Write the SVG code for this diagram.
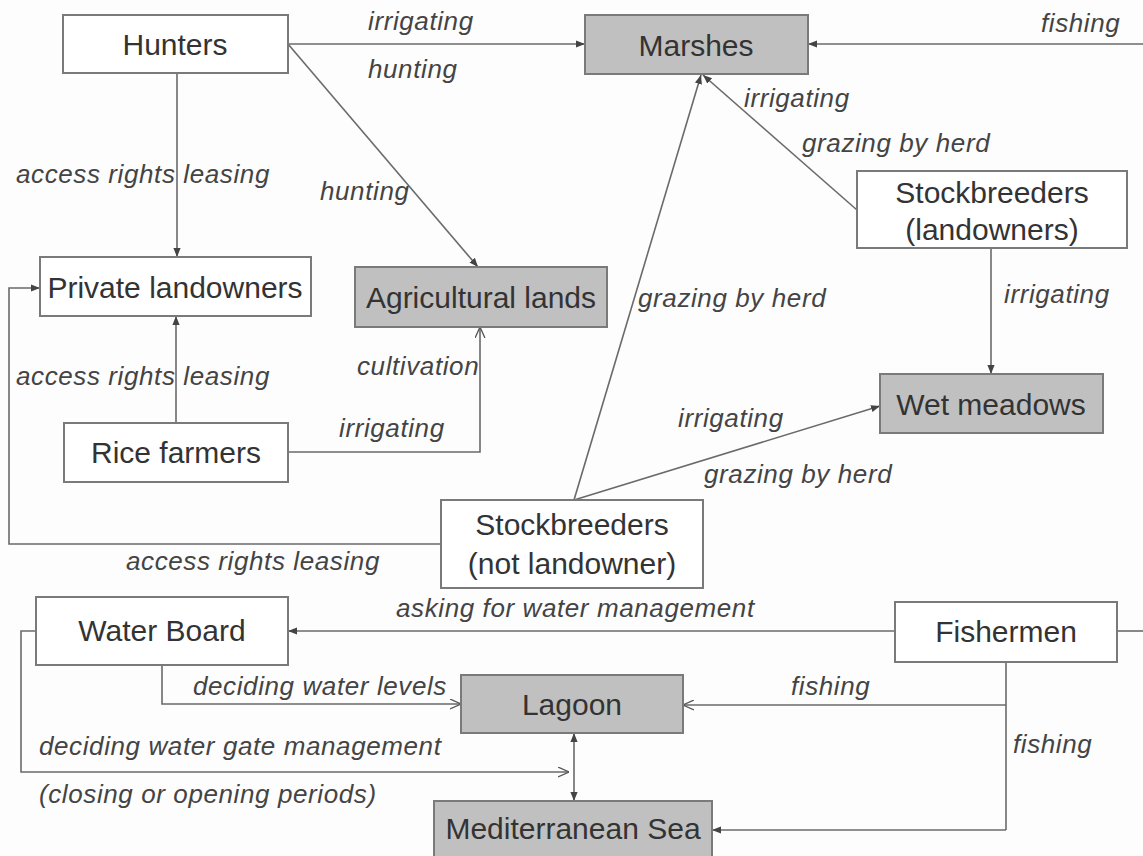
<svg xmlns="http://www.w3.org/2000/svg" width="1143" height="856" viewBox="0 0 1143 856">
<defs>
<style>
.node rect{stroke:#7a7a7a;stroke-width:2;fill:#ffffff}
.node.res rect{fill:#c0c0c0}
.node text{font-family:"Liberation Sans",Arial,sans-serif;font-size:30px;fill:#333;text-anchor:middle}
.lbl{font-family:"Liberation Sans",Arial,sans-serif;font-size:26px;letter-spacing:0.6px;font-style:italic;fill:#444}
#connectors path{stroke:#6a6a6a;stroke-width:1.6;fill:none}
.f{marker-end:url(#af)}
.o{marker-end:url(#ao)}
</style>
<marker id="af" viewBox="0 0 10 10" refX="10" refY="5" markerWidth="9" markerHeight="9" markerUnits="userSpaceOnUse" orient="auto"><path d="M0,1 L10,5 L0,9 z" fill="#444"/></marker>
<marker id="as" viewBox="0 0 10 10" refX="10" refY="5" markerWidth="9" markerHeight="9" markerUnits="userSpaceOnUse" orient="auto-start-reverse"><path d="M0,1 L10,5 L0,9 z" fill="#444"/></marker>
<marker id="ao" viewBox="0 0 10 10" refX="10" refY="5" markerWidth="11" markerHeight="11" markerUnits="userSpaceOnUse" orient="auto"><path d="M0,0.5 L10,5 L0,9.5" fill="none" stroke="#555" stroke-width="1.2"/></marker>
</defs>
<rect x="0" y="0" width="1143" height="856" fill="#fdfdfd"/>
<g id="connectors">
<path class="f" d="M288,44 H585"/>
<path class="f" d="M288,44 L478,267"/>
<path class="f" d="M177,73 V257"/>
<path class="f" d="M1143,44 H808"/>
<path class="f" d="M857,210 L703,75"/>
<path class="f" d="M574,500 L701,75"/>
<path class="f" d="M991,248 V374"/>
<path class="f" d="M574,500 L880,406"/>
<path class="f" d="M176,423 V316"/>
<path class="o" d="M288,452 H480 V327"/>
<path class="f" d="M441,544 H9 V288 H40"/>
<path class="f" d="M895,631 H288"/>
<path d="M1117,631 H1143"/>
<path class="o" d="M162,665 V704 H461"/>
<path class="o" d="M36,631 H21 V772 H569"/>
<path d="M574,733 V801" marker-start="url(#as)" marker-end="url(#af)"/>
<path d="M1006,662 V830"/>
<path class="o" d="M1006,705 H683"/>
<path class="f" d="M1006,830 H712"/>
</g>
<g id="labels" class="lbl">
<text x="368" y="30">irrigating</text>
<text x="368" y="78">hunting</text>
<text x="1041" y="32">fishing</text>
<text x="16" y="183">access rights leasing</text>
<text x="320" y="200">hunting</text>
<text x="744" y="107">irrigating</text>
<text x="802" y="152">grazing by herd</text>
<text x="1004" y="303">irrigating</text>
<text x="638" y="307">grazing by herd</text>
<text x="16" y="385">access rights leasing</text>
<text x="357" y="375">cultivation</text>
<text x="339" y="437">irrigating</text>
<text x="678" y="427">irrigating</text>
<text x="704" y="483">grazing by herd</text>
<text x="126" y="570">access rights leasing</text>
<text x="396" y="617">asking for water management</text>
<text x="193" y="695">deciding water levels</text>
<text x="791" y="695">fishing</text>
<text x="39" y="755">deciding water gate management</text>
<text x="1013" y="753">fishing</text>
<text x="39" y="803">(closing or opening periods)</text>
</g>
<g id="hunters" class="node"><rect x="63" y="15" width="225" height="58"/><text x="175" y="55">Hunters</text></g>
<g id="marshes" class="node res"><rect x="585" y="15" width="223" height="59"/><text x="696" y="56">Marshes</text></g>
<g id="private-landowners" class="node"><rect x="40" y="257" width="271" height="59"/><text x="175" y="298">Private landowners</text></g>
<g id="agricultural-lands" class="node res"><rect x="355" y="267" width="252" height="60"/><text x="481" y="308">Agricultural lands</text></g>
<g id="stockbreeders-landowners" class="node"><rect x="857" y="171" width="270" height="77"/><text x="992" y="203">Stockbreeders</text><text x="992" y="240">(landowners)</text></g>
<g id="wet-meadows" class="node res"><rect x="880" y="374" width="223" height="59"/><text x="991" y="415">Wet meadows</text></g>
<g id="rice-farmers" class="node"><rect x="64" y="423" width="224" height="59"/><text x="176" y="463">Rice farmers</text></g>
<g id="stockbreeders-not-landowner" class="node"><rect x="441" y="500" width="262" height="88"/><text x="572" y="535">Stockbreeders</text><text x="572" y="574">(not landowner)</text></g>
<g id="water-board" class="node"><rect x="36" y="597" width="252" height="68"/><text x="162" y="641">Water Board</text></g>
<g id="fishermen" class="node"><rect x="895" y="602" width="222" height="60"/><text x="1006" y="642">Fishermen</text></g>
<g id="lagoon" class="node res"><rect x="461" y="675" width="222" height="58"/><text x="572" y="715">Lagoon</text></g>
<g id="mediterranean-sea" class="node res"><rect x="434" y="801" width="278" height="62"/><text x="573" y="839">Mediterranean Sea</text></g>
</svg>
